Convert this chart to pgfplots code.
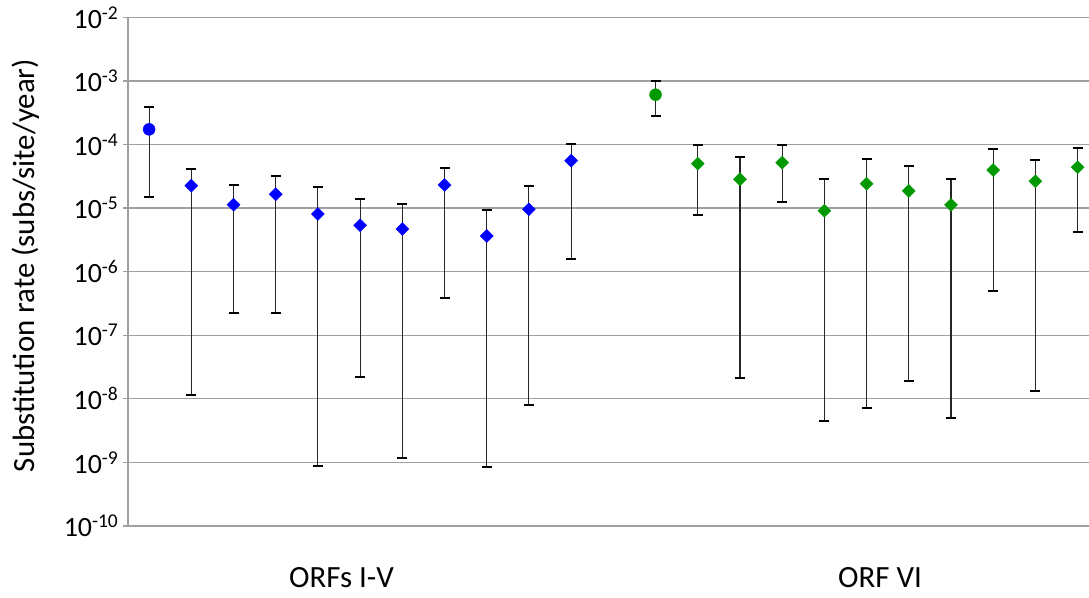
\documentclass[border=0pt]{standalone}
\usepackage{pgfplots}
\pgfplotsset{compat=1.18}
\usepackage{pgfplotstable}
\usepackage{fontspec}
\setmainfont{Carlito}
\definecolor{myblue}{RGB}{0,0,255}
\definecolor{mygreen}{RGB}{0,153,0}
\definecolor{gridgray}{RGB}{160,160,160}

\pgfplotstableread{
x y hi lo
0 1.73e-4 3.89e-4 1.48e-5
}\bluecirc
\pgfplotstableread{
x y hi lo
1 2.25e-5 4.07e-5 1.14e-8
2 1.13e-5 2.31e-5 2.24e-7
3 1.65e-5 3.20e-5 2.20e-7
4 8.07e-6 2.17e-5 8.70e-10
5 5.37e-6 1.37e-5 2.21e-8
6 4.69e-6 1.15e-5 1.18e-9
7 2.31e-5 4.26e-5 3.82e-7
8 3.64e-6 9.45e-6 8.40e-10
9 9.58e-6 2.23e-5 8.10e-9
10 5.57e-5 1.03e-4 1.58e-6
}\bluediam
\pgfplotstableread{
x y hi lo
12 6.07e-4 9.87e-4 2.81e-4
}\greencirc
\pgfplotstableread{
x y hi lo
13 4.99e-5 9.70e-5 7.88e-6
14 2.84e-5 6.37e-5 2.13e-8
15 5.18e-5 9.80e-5 1.26e-5
16 9.10e-6 2.84e-5 4.55e-9
17 2.42e-5 5.85e-5 7.10e-9
18 1.86e-5 4.54e-5 1.91e-8
19 1.12e-5 2.84e-5 4.96e-9
20 3.97e-5 8.39e-5 4.92e-7
21 2.64e-5 5.65e-5 1.32e-8
22 4.39e-5 8.91e-5 4.16e-6
}\greendiam

\begin{document}
\begin{tikzpicture}
\begin{axis}[
  scale only axis,
  width=961bp, height=508.7bp,
  ymode=log,
  xmin=-0.5, xmax=22.27,
  ymin=1e-10, ymax=1e-2,
  axis x line=none,
  axis y line*=left,
  axis line style={gridgray, line width=1.2bp},
  ytick={1e-10,1e-9,1e-8,1e-7,1e-6,1e-5,1e-4,1e-3,1e-2},
  yticklabels={10\textsuperscript{-10},10\textsuperscript{-9},10\textsuperscript{-8},10\textsuperscript{-7},10\textsuperscript{-6},10\textsuperscript{-5},10\textsuperscript{-4},10\textsuperscript{-3},10\textsuperscript{-2}},
  minor ytick={},
  log basis y=10,
  ymajorgrids,
  major grid style={gridgray, line width=1.2bp},
  tick align=outside,
  major tick length=4.5bp,
  tick style={gridgray, line width=1.2bp},
  yticklabel style={font=\fontsize{28}{32}\selectfont, inner sep=0pt, anchor=east, xshift=-5bp},
  clip=false,
  error bars/y dir=both,
  error bars/y explicit,
  error bars/error bar style={black!85, line width=1.1bp},
  error bars/error mark options={black, line width=2bp, mark size=5bp, rotate=90},
]
\addplot[only marks, mark=*, mark size=6bp, myblue, mark options={fill=myblue, draw=myblue},
  error bars/.cd, y dir=both, y explicit]
  table[x=x, y=y, y error plus expr=\thisrow{hi}-\thisrow{y}, y error minus expr=\thisrow{y}-\thisrow{lo}] {\bluecirc};
\addplot[only marks, mark=square*, mark size=4.6bp, myblue, mark options={fill=myblue, draw=myblue, rotate=45},
  error bars/.cd, y dir=both, y explicit]
  table[x=x, y=y, y error plus expr=\thisrow{hi}-\thisrow{y}, y error minus expr=\thisrow{y}-\thisrow{lo}] {\bluediam};
\addplot[only marks, mark=*, mark size=6bp, mygreen, mark options={fill=mygreen, draw=mygreen},
  error bars/.cd, y dir=both, y explicit]
  table[x=x, y=y, y error plus expr=\thisrow{hi}-\thisrow{y}, y error minus expr=\thisrow{y}-\thisrow{lo}] {\greencirc};
\addplot[only marks, mark=square*, mark size=4.6bp, mygreen, mark options={fill=mygreen, draw=mygreen, rotate=45},
  error bars/.cd, y dir=both, y explicit]
  table[x=x, y=y, y error plus expr=\thisrow{hi}-\thisrow{y}, y error minus expr=\thisrow{y}-\thisrow{lo}] {\greendiam};
\end{axis}
\node[rotate=90, font=\fontsize{31}{37}\selectfont] at (-102bp, 260.5bp) {Substitution rate (subs/site/year)};
\node[anchor=base, font=\fontsize{31}{37}\selectfont] at (213.5bp, -61.7bp) {ORFs I-V};
\node[anchor=base, font=\fontsize{31}{37}\selectfont] at (752bp, -61.7bp) {ORF VI};
\pgfresetboundingbox
\path (-128bp,-72bp) rectangle (961bp,526bp);
\end{tikzpicture}
\end{document}
